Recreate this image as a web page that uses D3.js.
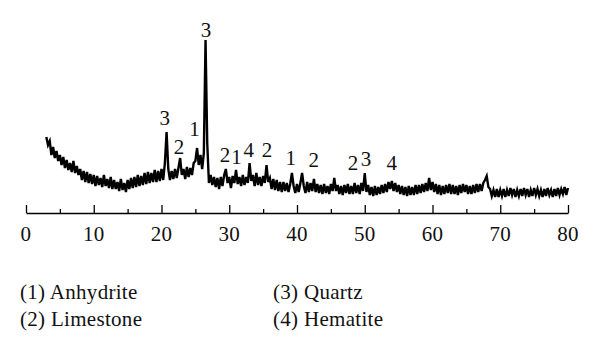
<!DOCTYPE html>
<html lang="en">
<head>
<meta charset="UTF-8">
<title>XRD pattern</title>
<script src="https://d3js.org/d3.v7.min.js"></script>
<style>
  body { margin: 0; background: #fff; }
  text { font-family: "Liberation Serif", "DejaVu Serif", serif; fill: #111; letter-spacing: 0.3px; }
</style>
</head>
<body>
<div id="chart"></div>
<script>
// 2-theta sampling: 3 to 80 degrees, every 0.25
const angleStart = 3;
const angleStep = 0.25;
// intensity (arbitrary units), one row = 2.5 degrees
const intensity = [
  76, 68, 72, 58, 66, 55, 62, 52, 58, 48,
  56, 45, 53, 43, 50, 41, 52, 40, 47, 38,
  44, 33, 42, 31, 41, 30, 39, 29, 38, 27,
  37, 28, 35, 26, 38, 27, 34, 25, 36, 24,
  33, 24, 31, 22, 34, 23, 30, 21, 33, 24,
  35, 25, 36, 26, 38, 27, 37, 28, 40, 29,
  41, 30, 40, 31, 43, 31, 42, 32, 44, 33,
  50, 81, 44, 33, 42, 34, 44, 35, 45, 55,
  38, 44, 34, 46, 36, 45, 38, 50, 52, 65,
  48, 58, 44, 60, 173, 70, 30, 38, 28, 36,
  26, 35, 24, 36, 27, 38, 44, 30, 36, 25,
  37, 30, 43, 29, 36, 27, 38, 28, 36, 30,
  50, 32, 38, 27, 40, 28, 36, 27, 37, 30,
  48, 31, 35, 24, 34, 23, 33, 22, 31, 21,
  31, 22, 30, 21, 29, 40, 27, 20, 29, 21,
  30, 40, 27, 20, 31, 21, 30, 22, 34, 21,
  29, 20, 28, 19, 29, 20, 27, 19, 29, 22,
  35, 22, 28, 19, 27, 18, 28, 20, 29, 19,
  27, 19, 30, 20, 28, 19, 30, 22, 40, 21,
  28, 18, 26, 17, 27, 18, 26, 19, 28, 20,
  29, 21, 31, 24, 32, 22, 30, 21, 28, 19,
  27, 18, 26, 17, 27, 18, 26, 18, 28, 19,
  28, 20, 29, 21, 30, 22, 35, 23, 31, 21,
  29, 19, 28, 18, 27, 19, 28, 20, 29, 19,
  28, 19, 27, 18, 28, 20, 29, 21, 28, 19,
  27, 19, 28, 20, 29, 21, 29, 22, 30, 33,
  37, 26, 24, 17, 23, 16, 24, 16, 23, 17,
  24, 16, 23, 17, 25, 18, 24, 16, 23, 17,
  24, 17, 25, 18, 24, 16, 23, 17, 25, 18,
  24, 17, 23, 16, 24, 17, 25, 18, 23, 16,
  24, 17, 25, 18, 24, 19, 26, 18, 25
];

// peak labels: phase number, angle, intensity where the label sits
const peakIds    = ["3", "3", "2", "1", "2", "1", "4", "2", "1", "2", "2", "3", "4"];
const peakAngles = [26.6, 20.5, 22.6, 24.9, 29.4, 31.1, 32.9, 35.6, 39.1, 42.5, 48.3, 50.2, 54.0];
const peakLevels = [176, 88, 59, 77, 51, 49, 56, 56, 48, 46, 43, 47, 43];

const legendItems = ["(1) Anhydrite", "(2) Limestone", "(3) Quartz", "(4) Hematite"];
const xTicks = [0, 10, 20, 30, 40, 50, 60, 70, 80];

const width = 600;
const height = 348;

const data = intensity.map((v, i) => ({ a: angleStart + i * angleStep, v: v }));

const xScale = d3.scaleLinear().domain([0, 80]).range([26, 568]);
const yScale = d3.scaleLinear().domain([0, 180]).range([213, 33]);

const svg = d3.select("#chart")
  .append("svg")
  .attr("width", width)
  .attr("height", height);

// pattern
svg.append("path")
  .datum(data)
  .attr("fill", "none")
  .attr("stroke", "#000")
  .attr("stroke-width", 2.4)
  .attr("stroke-linejoin", "miter")
  .attr("d", d3.line().x(d => xScale(d.a)).y(d => yScale(d.v)));

// x axis, ticks pointing up
const axis = svg.append("g")
  .attr("transform", `translate(0,${yScale(0)})`);

axis.call(d3.axisTop(xScale).tickValues(d3.range(0, 81, 5)).tickSizeInner(8).tickSizeOuter(0).tickFormat(""))
  .call(g => g.select(".domain").attr("stroke", "#000").attr("stroke-width", 1.5))
  .call(g => g.selectAll(".tick line")
    .attr("stroke", "#000")
    .attr("stroke-width", 1.3)
    .attr("y2", d => d % 10 === 0 ? -8 : -4));

axis.selectAll(".xlabel")
  .data(xTicks)
  .enter()
  .append("text")
  .attr("class", "xlabel")
  .attr("x", d => xScale(d))
  .attr("y", 28)
  .attr("text-anchor", "middle")
  .style("font-size", "21px")
  .text(d => d);

// peak labels
svg.selectAll(".peak")
  .data(peakIds)
  .enter()
  .append("text")
  .attr("class", "peak")
  .attr("x", (d, i) => xScale(peakAngles[i]))
  .attr("y", (d, i) => yScale(peakLevels[i]))
  .attr("text-anchor", "middle")
  .style("font-size", "21px")
  .text(d => d);

// legend, two columns
svg.selectAll(".legend")
  .data(legendItems)
  .enter()
  .append("text")
  .attr("class", "legend")
  .attr("x", (d, i) => i < 2 ? 20 : 273)
  .attr("y", (d, i) => i % 2 === 0 ? 299 : 326)
  .style("font-size", "21px")
  .text(d => d);
</script>
</body>
</html>
